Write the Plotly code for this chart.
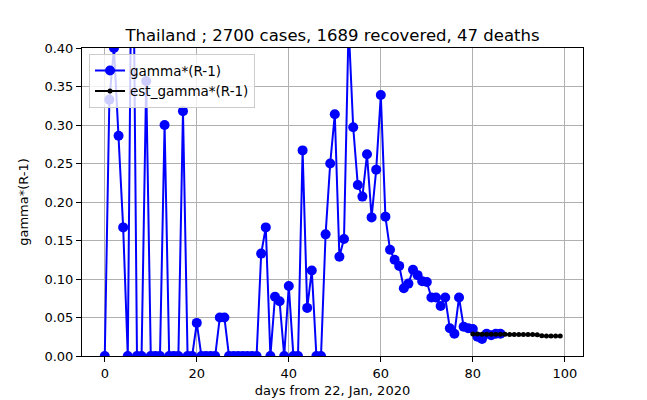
import plotly.graph_objects as go

# observed gamma*(R-1), one value per day from 22 Jan 2020
days = list(range(0, 87))
gamma_r = [
    0.0, 0.333, 0.400, 0.286, 0.167, 0.0, 0.667, 0.0, 0.0, 0.357,
    0.0, 0.0, 0.0, 0.300, 0.0, 0.0, 0.0, 0.318, 0.0, 0.0,
    0.043, 0.0, 0.0, 0.0, 0.0, 0.050, 0.050, 0.0, 0.0, 0.0,
    0.0, 0.0, 0.0, 0.0, 0.133, 0.167, 0.0, 0.077, 0.071, 0.0,
    0.091, 0.0, 0.0, 0.267, 0.0625, 0.111, 0.0, 0.0, 0.158, 0.250,
    0.314, 0.129, 0.152, 0.430, 0.297, 0.222, 0.207, 0.262, 0.180, 0.242,
    0.339, 0.181, 0.138, 0.125, 0.117, 0.088, 0.094, 0.112, 0.105, 0.097,
    0.096, 0.076, 0.076, 0.065, 0.076, 0.036, 0.029, 0.076, 0.038, 0.036,
    0.035, 0.025, 0.022, 0.029, 0.027, 0.029, 0.029,
]

# estimated gamma*(R-1)
est_days = list(range(80, 100))
est_gamma_r = [
    0.0286, 0.0285, 0.0284, 0.0283, 0.0283, 0.0282, 0.0281, 0.0281, 0.0280, 0.0280,
    0.0279, 0.0279, 0.0278, 0.0278, 0.0277, 0.0262, 0.0261, 0.0261, 0.0260, 0.0260,
]

title = "Thailand ; 2700 cases, 1689 recovered, 47 deaths"

fig = go.Figure()
fig.add_trace(go.Scatter(
    x=days, y=gamma_r, mode="lines+markers", name="gamma*(R-1)",
    line=dict(color="#0000ff", width=2),
    marker=dict(color="#0000ff", size=10),
))
fig.add_trace(go.Scatter(
    x=est_days, y=est_gamma_r, mode="lines+markers", name="est_gamma*(R-1)",
    line=dict(color="black", width=2),
    marker=dict(color="black", size=5),
))

axis_style = dict(
    showline=True, mirror=True, linecolor="black", linewidth=1,
    ticks="outside", ticklen=5, tickcolor="black",
    showgrid=True, gridcolor="#b0b0b0", gridwidth=1, zeroline=False,
    tickfont=dict(size=13, color="black"), automargin=False,
)

# the page body has an 8px margin, so the figure is shifted by 8px
fig.update_layout(
    width=631, height=392,
    margin=dict(l=74, r=56, t=40, b=44),
    paper_bgcolor="white", plot_bgcolor="white",
    font=dict(family="DejaVu Sans", color="black"),
    title=dict(text=title, xref="paper", x=0.5, xanchor="center", y=1 - 27 / 392,
               yanchor="middle", font=dict(size=16.5)),
    xaxis=dict(range=[-4.95, 103.95], tick0=0, dtick=20,
               title=dict(text="days from 22, Jan, 2020", font=dict(size=13), standoff=6),
               **axis_style),
    yaxis=dict(range=[0, 0.4], tick0=0, dtick=0.05, tickformat=".2f",
               title=dict(text="gamma*(R-1)", font=dict(size=13), standoff=12),
               **axis_style),
    legend=dict(x=0.014, y=0.98, xanchor="left", yanchor="top",
                bgcolor="rgba(255,255,255,0.8)", bordercolor="#cccccc", borderwidth=1,
                font=dict(size=13.5), tracegroupgap=0),
    showlegend=True,
)

fig.write_html("out.html")
